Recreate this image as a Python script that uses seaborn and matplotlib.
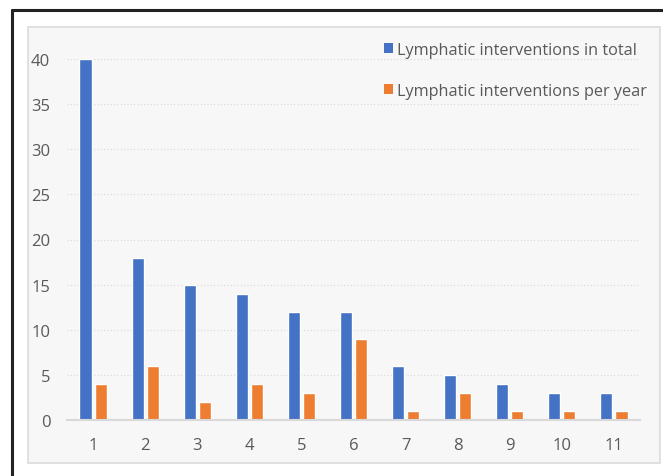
import pandas as pd
import seaborn as sns
import matplotlib
matplotlib.use('Agg')
import matplotlib.pyplot as plt
from matplotlib.patches import Rectangle, Patch
from matplotlib.lines import Line2D

# values
categories = ["1", "2", "3", "4", "5", "6", "7", "8", "9", "10", "11"]
total = [40, 18, 15, 14, 12, 12, 6, 5, 4, 3, 3]
per_year = [4, 6, 2, 4, 3, 9, 1, 3, 1, 1, 1]
series_names = ["Lymphatic interventions in total", "Lymphatic interventions per year"]
colors = ["#4472C4", "#ED7D31"]

df = pd.DataFrame({
    "category": categories * 2,
    "value": total + per_year,
    "series": [series_names[0]] * len(categories) + [series_names[1]] * len(categories),
})

sns.set_style("white")
plt.rcParams['font.family'] = ['Open Sans', 'DejaVu Sans']
text_color = "#595959"

fig = plt.figure(figsize=(6.63, 4.77), dpi=100)
W, H = 663, 477

# inner light-gray chart box
fig.patches.append(Rectangle((28 / W, 1 - 464 / H), (660 - 28) / W, (464 - 28) / H,
                             transform=fig.transFigure, facecolor="#F7F7F7",
                             edgecolor="#DCDCDC", linewidth=1.2, zorder=-10))
# outer black frame (top and left)
fig.lines.append(Line2D([11.5 / W, 11.5 / W], [0, 1 - 11 / H], transform=fig.transFigure,
                        color="#222222", linewidth=2.2))
fig.lines.append(Line2D([11.5 / W, 1], [1 - 11 / H, 1 - 11 / H], transform=fig.transFigure,
                        color="#222222", linewidth=2.2))

ax = fig.add_axes([67 / W, 1 - 421 / H, (640 - 67) / W, (421 - 60) / H])
ax.set_facecolor("none")
ax.set_zorder(5)

sns.barplot(data=df, x="category", y="value", hue="series", palette=colors,
            width=0.58, gap=0.2, ax=ax, legend=False, saturation=1)

ax.set_ylim(0, 40)
ax.set_xlim(-0.5, 10.5)
ax.set_yticks(range(0, 41, 5))
ax.yaxis.grid(True, color="#D9D9D9", linestyle=(0, (1, 2)), linewidth=0.8)
ax.set_axisbelow(True)
for side in ["top", "right", "left"]:
    ax.spines[side].set_visible(False)
ax.spines["bottom"].set_color("#D9D9D9")
ax.spines["bottom"].set_linewidth(1.5)
ax.tick_params(axis="both", length=0, labelsize=12, colors=text_color)
ax.tick_params(axis="x", pad=12)
ax.tick_params(axis="y", pad=12)
ax.set_xlabel("")
ax.set_ylabel("")

handles = [Patch(facecolor=c, edgecolor="none") for c in colors]
fig.legend(handles, series_names, loc="upper left", bbox_to_anchor=(369 / W, 1 - 28 / H),
           frameon=False, fontsize=11.7, labelcolor=text_color, handlelength=0.55,
           handleheight=0.55, handletextpad=0.25, labelspacing=1.55)

plt.savefig("out.png", dpi=100)
plt.close()
